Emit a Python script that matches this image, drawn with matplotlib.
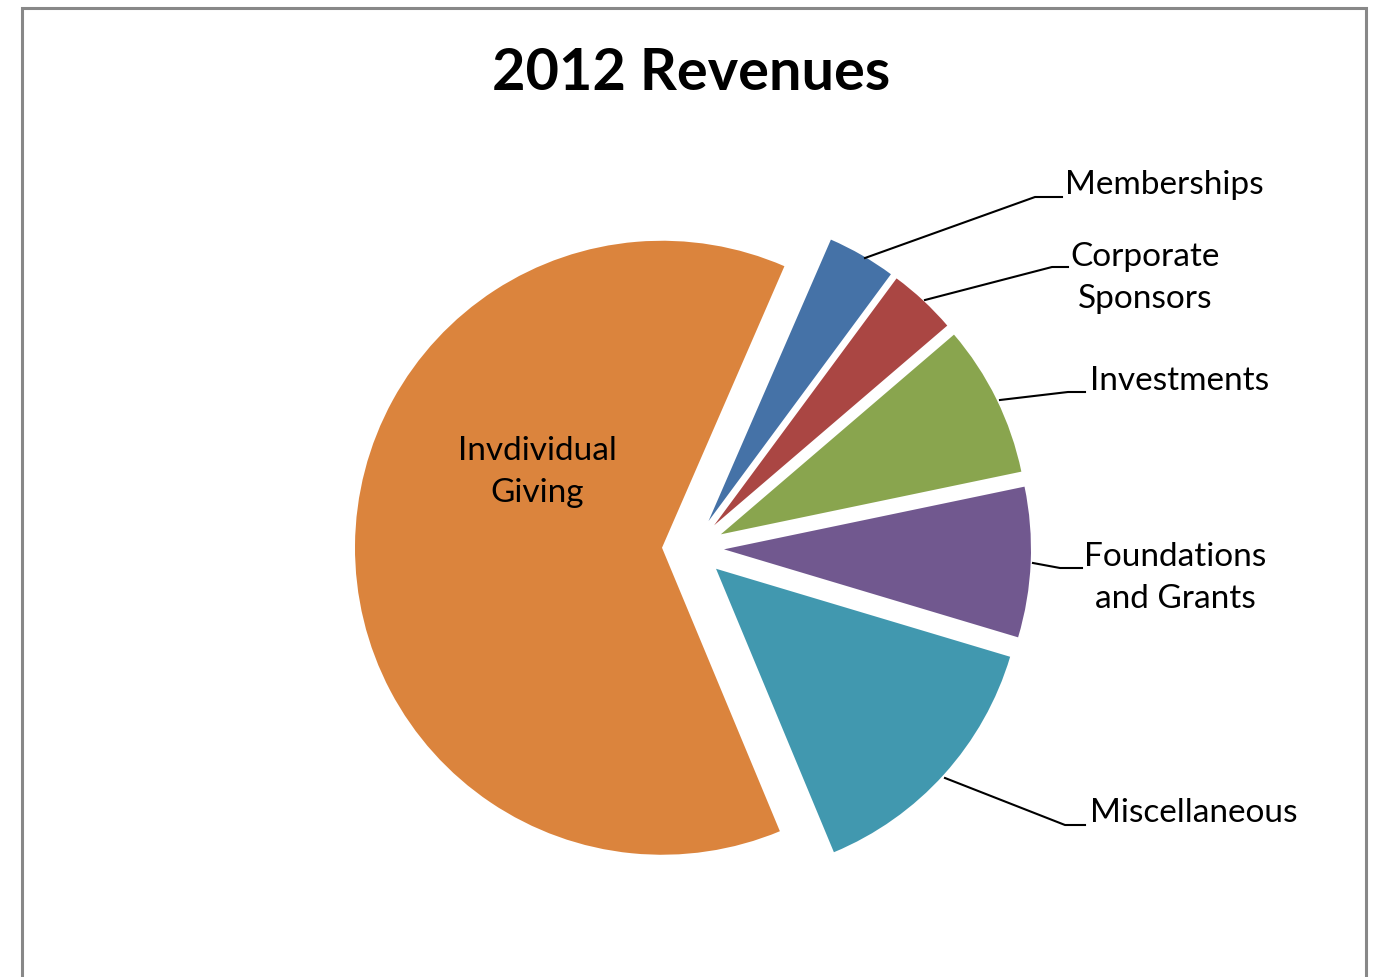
import numpy as np
import matplotlib.pyplot as plt

plt.rcParams['font.family'] = ['Lato', 'DejaVu Sans']

# data (percent of 2012 revenues), clockwise from the top
categories = ['Memberships', 'Corporate\nSponsors', 'Investments',
              'Foundations\nand Grants', 'Miscellaneous', 'Invdividual\nGiving']
values = [3.6, 3.6, 8.0, 7.9, 14.1, 62.8]
colors = ['#4572A7', '#AA4643', '#89A54E', '#71588F', '#4198AF', '#DB843D']

H = 977


def py(y):
    # pixel row (from top) to data y
    return H - y


fig = plt.figure(figsize=(13.78, 9.77), dpi=100)
ax = fig.add_axes([0, 0, 1, 1])

ax.pie(values, colors=colors, startangle=66.5, counterclock=False,
       center=(693, py(548)), radius=307, explode=[31] * len(values),
       wedgeprops=dict(linewidth=0), frame=False)

ax.set_xlim(0, 1378)
ax.set_ylim(0, H)
ax.set_aspect('equal')
ax.axis('off')

# chart border
ax.plot([22, 22, 1366, 1366], [0, py(8), py(8), 0], color='#888888', lw=2.2,
        solid_joinstyle='miter')

ax.text(691, py(73), '2012 Revenues', ha='center', va='center',
        fontsize=41.5, fontweight='bold')

# outside labels with leader lines
leaders = [
    ([865, 1035, 1062], [258, 197, 197], 1065, 185, 'left'),
    ([925, 1052, 1068], [300, 267, 267], 1145, 278, 'center'),
    ([1000, 1068, 1085], [400, 392, 392], 1090, 381, 'left'),
    ([1033, 1060, 1082], [563, 568, 568], 1175, 578, 'center'),
    ([945, 1065, 1085], [778, 825, 825], 1090, 813, 'left'),
]
for (xs, ys, tx, ty, ha), lab in zip(leaders, categories[:5]):
    ax.plot(xs, [py(v) for v in ys], color='black', lw=1.5)
    ax.text(tx, py(ty), lab, ha=ha, va='center', fontsize=24,
            multialignment='center', linespacing=1.52)

ax.text(537, py(472), categories[5], ha='center', va='center', fontsize=24,
        multialignment='center', linespacing=1.52)

fig.savefig('out.png', dpi=100)
